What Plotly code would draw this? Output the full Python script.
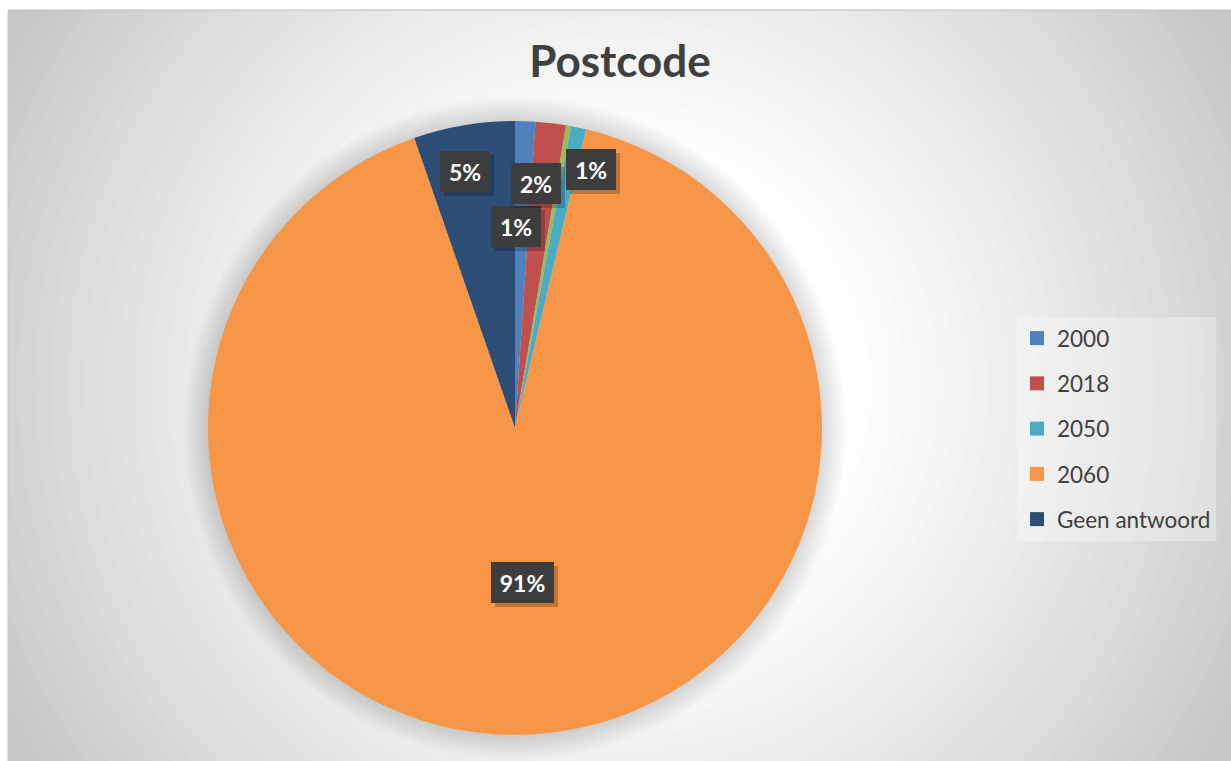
import numpy as np
import plotly.graph_objects as go

W, H = 1231, 761

# ---------------- data ----------------
categories = ["2000", "2018", "Overig", "2050", "2060", "Geen antwoord"]
counts = [4, 6, 1, 3, 342, 20]
slice_colors = ["#4F81BD", "#C0504D", "#9BBB59", "#4BACC6", "#F79646", "#2C4D75"]
legend_labels = ["2000", "2018", "2050", "2060", "Geen antwoord"]
title_text = "Postcode"

# label placement (radius fraction, angular nudge in degrees) per slice
label_radius = [0.655, 0.80, None, 0.877, 0.504, 0.85]
label_nudge = [-1.7, -1.7, 0.0, 4.5, 0.0, -1.5]

# ---------------- geometry (pixels) ----------------
CX, CY, R = 515, 428, 307
dom_x = [(CX - R) / W, (CX + R) / W]
dom_y = [1 - (CY + R) / H, 1 - (CY - R) / H]


def px(x):
    return x / W


def py(y):
    return 1 - y / H


fig = go.Figure()

fig.add_trace(go.Pie(
    labels=categories,
    values=counts,
    marker=dict(colors=slice_colors, line=dict(width=0)),
    sort=False,
    direction="clockwise",
    rotation=0,
    textinfo="none",
    hoverinfo="label+percent",
    domain=dict(x=dom_x, y=dom_y),
    showlegend=False,
))

# legend entries (only the five shown in the reference)
color_of = dict(zip(categories, slice_colors))
for lab in legend_labels:
    fig.add_trace(go.Scatter(
        x=[None], y=[None], mode="markers",
        marker=dict(symbol="square", size=14, color=color_of[lab]),
        name=lab, legendgroup=lab, hoverinfo="skip",
    ))

# ---------------- background: radial gradient ----------------
shapes = []
shapes.append(dict(type="rect", xref="paper", yref="paper", x0=px(8), x1=1.02, y0=-0.02, y1=py(10),
                   fillcolor="#c6c6c6", line=dict(width=0), layer="below"))
gcx, gcy = 620, 385
Rmax = np.hypot(W - 8 - (gcx - 8), gcy - 10) * 1.05
N = 45
for i in range(N):
    t = 1.05 * (1 - i / N)
    r = Rmax * (1 - i / N)
    s = max(0.0, (t - 0.3) / 0.7)
    L = int(round(255 - 57 * min(1.0, s) ** 1.2))
    shapes.append(dict(type="circle", xref="paper", yref="paper",
                       x0=px(gcx - r), x1=px(gcx + r), y0=py(gcy + r), y1=py(gcy - r),
                       fillcolor=f"rgb({L},{L},{L})", line=dict(width=0), layer="below"))
# white margin outside the chart area
shapes.append(dict(type="rect", xref="paper", yref="paper", x0=-0.1, x1=px(8), y0=-0.1, y1=1.1,
                   fillcolor="white", line=dict(width=0), layer="below"))
shapes.append(dict(type="rect", xref="paper", yref="paper", x0=-0.1, x1=1.1, y0=py(10), y1=1.1,
                   fillcolor="white", line=dict(width=0), layer="below"))
shapes.append(dict(type="line", xref="paper", yref="paper", x0=px(8), x1=1.01, y0=py(10), y1=py(10),
                   line=dict(color="#bdbdbd", width=1), layer="below"))
shapes.append(dict(type="line", xref="paper", yref="paper", x0=px(8), x1=px(8), y0=-0.01, y1=py(10),
                   line=dict(color="#c9c9c9", width=1), layer="below"))
# soft shadow around the pie
for k in range(12, 0, -1):
    rr = R + 2 * k
    shapes.append(dict(type="circle", xref="paper", yref="paper",
                       x0=px(CX - rr), x1=px(CX + rr), y0=py(CY + rr), y1=py(CY - rr),
                       fillcolor="rgba(0,0,0,0.012)", line=dict(width=0), layer="below"))

# ---------------- data labels ----------------
vals = np.array(counts, dtype=float)
frac = vals / vals.sum()
cum = np.concatenate([[0], np.cumsum(frac)])
annotations = []
for i, cat in enumerate(categories):
    if label_radius[i] is None:
        continue
    mid = (cum[i] + cum[i + 1]) / 2 * 360 + label_nudge[i]
    th = np.deg2rad(mid)
    lx = CX + R * label_radius[i] * np.sin(th)
    ly = CY - R * label_radius[i] * np.cos(th)
    pct = int(round(frac[i] * 100))
    txt = f"<b>{pct}%</b>"
    box_w = 34 if pct < 10 else 47
    common = dict(x=px(lx), y=py(ly), xref="paper", yref="paper", showarrow=False,
                  xanchor="center", yanchor="middle", borderpad=8, borderwidth=0,
                  width=box_w, height=25)
    # drop shadow box (no text)
    annotations.append(dict(**common, text="&nbsp;", xshift=4, yshift=-4, bgcolor="rgba(0,0,0,0.22)",
                            font=dict(family="Lato", size=23, color="rgba(0,0,0,0)")))
    annotations.append(dict(**common, text=txt, bgcolor="#3d3d3d",
                            font=dict(family="Lato", size=23, color="white")))

fig.update_layout(
    width=W, height=H,
    margin=dict(l=0, r=0, t=0, b=0),
    paper_bgcolor="white",
    plot_bgcolor="rgba(0,0,0,0)",
    xaxis=dict(visible=False),
    yaxis=dict(visible=False),
    title=dict(text=title_text, x=px(620), y=py(62), xanchor="center", yanchor="middle",
               font=dict(family="Lato", size=44, color="#404040", weight="bold")),
    legend=dict(x=px(1017), y=py(317), xanchor="left", yanchor="top",
                bgcolor="rgba(255,255,255,0.3)", font=dict(family="Lato", size=22.5, color="#404040"),
                traceorder="grouped", tracegroupgap=13, itemwidth=30,
                borderwidth=0),
    shapes=shapes,
    annotations=annotations,
)

fig.write_html("out.html", config={"displayModeBar": False},
               post_script="document.body.style.margin='0';document.body.style.overflow='hidden';")
